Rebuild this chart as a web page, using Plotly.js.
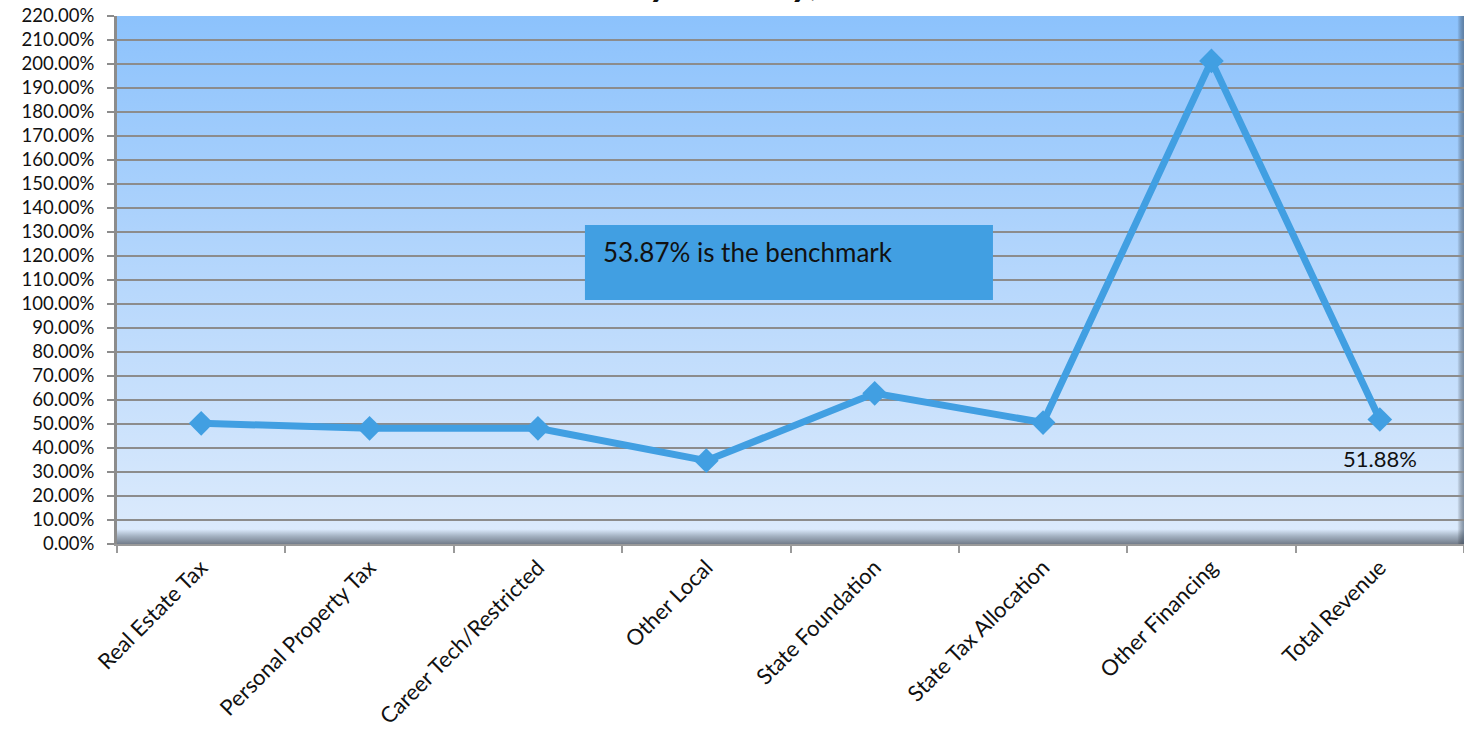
<!DOCTYPE html>
<html>
<head>
<meta charset="utf-8">
<script src="https://cdn.plot.ly/plotly-3.0.1.min.js"></script>
<style>html,body{margin:0;padding:0;background:#fff;overflow:hidden}#chart{width:1464px;height:739px}</style>
</head>
<body>
<div id="chart"></div>
<script>
const categories = ["Real Estate Tax", "Personal Property Tax", "Career Tech/Restricted", "Other Local", "State Foundation", "State Tax Allocation", "Other Financing", "Total Revenue"];
const percentReceived = [50.3, 48.2, 48.2, 34.7, 62.8, 50.6, 201.3, 51.88];
const pointLabels = ["", "", "", "", "", "", "", "51.88%"];
const benchmarkNote = "53.87% is the benchmark";
const titleFragment = "by January,";

const gradSvg = '<svg xmlns="http://www.w3.org/2000/svg" width="100" height="528" preserveAspectRatio="none">' +
  '<defs><linearGradient id="g" x1="0" y1="0" x2="0" y2="1">' +
  '<stop offset="0" stop-color="#8cc2fc"/>' +
  '<stop offset="0.5" stop-color="#b6d7fc"/>' +
  '<stop offset="0.972" stop-color="#dbeafc"/>' +
  '<stop offset="0.985" stop-color="#a4b2c2"/>' +
  '<stop offset="1" stop-color="#737d8b"/>' +
  '</linearGradient>' +
  '<linearGradient id="s" x1="0" y1="0" x2="1" y2="0">' +
  '<stop offset="0" stop-color="#000" stop-opacity="0"/>' +
  '<stop offset="1" stop-color="#3a4a5e" stop-opacity="0.55"/>' +
  '</linearGradient></defs>' +
  '<rect width="100" height="528" fill="url(#g)"/>' +
  '<rect x="99.5" width="0.5" height="528" fill="url(#s)"/>' +
  '</svg>';
const gradUri = 'data:image/svg+xml;base64,' + btoa(gradSvg);

const trace = {
  x: categories,
  y: percentReceived,
  type: 'scatter',
  mode: 'lines+markers',
  line: {color: '#419fe2', width: 7},
  marker: {symbol: 'diamond', size: 19, color: '#419fe2'},
  hoverinfo: 'x+y',
  cliponaxis: false
};

const labelAnnotations = categories.map((c, i) => ({
  text: pointLabels[i],
  x: c, y: percentReceived[i],
  xref: 'x', yref: 'y',
  xanchor: 'center', yanchor: 'middle',
  yshift: -39,
  showarrow: false,
  font: {family: 'Lato, sans-serif', size: 22, color: '#111'}
})).filter(a => a.text !== "");

const layout = {
  width: 1464,
  height: 739,
  margin: {l: 117, r: 0, t: 16, b: 195, pad: 0},
  paper_bgcolor: '#ffffff',
  plot_bgcolor: 'rgba(0,0,0,0)',
  showlegend: false,
  font: {family: 'Lato, sans-serif', color: '#111'},
  xaxis: {
    type: 'category',
    range: [-0.5, 7.5],
    tickangle: -45,
    tickfont: {family: 'Lato, sans-serif', size: 22, color: '#111'},
    ticks: 'outside',
    tickson: 'boundaries',
    ticklen: 7,
    tickwidth: 2,
    tickcolor: '#9a9a9a',
    showgrid: false,
    showline: true,
    linecolor: '#9a9a9a',
    linewidth: 2,
    zeroline: false,
    fixedrange: true
  },
  yaxis: {
    range: [0, 220],
    dtick: 10,
    tick0: 0,
    tickformat: '.2f',
    ticksuffix: '%',
    tickfont: {family: 'Lato, sans-serif', size: 18.5, color: '#111'},
    ticks: 'outside',
    ticklen: 7,
    tickwidth: 2,
    tickcolor: '#8c8c8c',
    ticklabelstandoff: 9,
    showgrid: true,
    gridcolor: '#8c8c8c',
    gridwidth: 2,
    showline: true,
    linecolor: '#8c8c8c',
    linewidth: 3,
    zeroline: false,
    fixedrange: true
  },
  images: [{
    source: gradUri,
    xref: 'paper', yref: 'paper',
    x: 0, y: 1, sizex: 1, sizey: 1,
    xanchor: 'left', yanchor: 'top',
    sizing: 'stretch',
    layer: 'below'
  }],
  shapes: [{
    type: 'rect',
    xref: 'paper', yref: 'paper',
    x0: 0.3474, x1: 0.6503,
    y0: 0.462, y1: 0.604,
    fillcolor: '#419fe2',
    line: {width: 0},
    layer: 'above'
  }],
  annotations: labelAnnotations.concat([{
    text: benchmarkNote,
    xref: 'paper', yref: 'paper',
    x: 0.3595, y: 0.553,
    xanchor: 'left', yanchor: 'middle',
    showarrow: false,
    font: {family: 'Lato, sans-serif', size: 26, color: '#111'}
  }, {
    text: '<b><i>' + titleFragment + '</i></b>',
    xref: 'paper', yref: 'paper',
    x: 0.379, y: 1,
    xanchor: 'left', yanchor: 'bottom',
    yshift: 10,
    showarrow: false,
    font: {family: 'Lato, sans-serif', size: 40, color: '#111'}
  }])
};

Plotly.newPlot('chart', [trace], layout, {displayModeBar: false, staticPlot: true});
</script>
</body>
</html>
